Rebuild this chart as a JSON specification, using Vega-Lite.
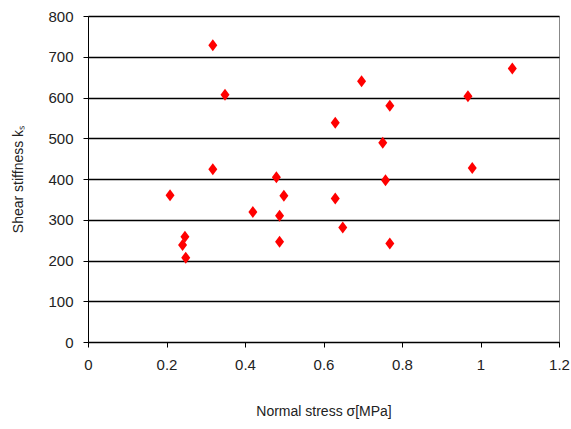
{
  "$schema": "https://vega.github.io/schema/vega-lite/v6.json",
  "width": 471,
  "height": 326,
  "autosize": "none",
  "padding": {"left": 88, "top": 16, "right": 12, "bottom": 87},
  "background": "white",
  "config": {
    "view": {"stroke": "#888888", "strokeWidth": 1},
    "font": "Liberation Sans"
  },
  "data": {
    "values": [
      {"sigma": 0.209, "ks": 360},
      {"sigma": 0.247, "ks": 258},
      {"sigma": 0.241, "ks": 238},
      {"sigma": 0.249, "ks": 207},
      {"sigma": 0.318, "ks": 728},
      {"sigma": 0.349, "ks": 607},
      {"sigma": 0.318, "ks": 424},
      {"sigma": 0.420, "ks": 319},
      {"sigma": 0.480, "ks": 404},
      {"sigma": 0.488, "ks": 310},
      {"sigma": 0.499, "ks": 359},
      {"sigma": 0.488, "ks": 246},
      {"sigma": 0.630, "ks": 538},
      {"sigma": 0.630, "ks": 352},
      {"sigma": 0.649, "ks": 281},
      {"sigma": 0.697, "ks": 640},
      {"sigma": 0.751, "ks": 489},
      {"sigma": 0.758, "ks": 397},
      {"sigma": 0.769, "ks": 580},
      {"sigma": 0.769, "ks": 242},
      {"sigma": 0.968, "ks": 603},
      {"sigma": 0.979, "ks": 427},
      {"sigma": 1.081, "ks": 671}
    ]
  },
  "mark": {
    "type": "point",
    "shape": "M0,-1.2L0.9,0L0,1.2L-0.9,0Z",
    "filled": true,
    "color": "#ff0000",
    "opacity": 1,
    "size": 100
  },
  "encoding": {
    "x": {
      "field": "sigma",
      "type": "quantitative",
      "scale": {"domain": [0, 1.2], "nice": false, "zero": true},
      "axis": {
        "title": "Normal stress σ[MPa]",
        "values": [0, 0.2, 0.4, 0.6, 0.8, 1, 1.2],
        "format": "~g",
        "grid": false,
        "domainColor": "#000000",
        "tickColor": "#000000",
        "tickSize": 5,
        "labelFontSize": 15,
        "labelColor": "#222222",
        "labelPadding": 10,
        "labelFlush": false,
        "titleFontSize": 14,
        "titleFontWeight": "normal",
        "titleColor": "#222222",
        "titlePadding": 32
      }
    },
    "y": {
      "field": "ks",
      "type": "quantitative",
      "scale": {"domain": [0, 800], "nice": false},
      "axis": {
        "title": "Shear stiffness kₛ",
        "values": [0, 100, 200, 300, 400, 500, 600, 700, 800],
        "grid": true,
        "gridColor": "#000000",
        "gridWidth": 1.5,
        "gridOpacity": 1,
        "domainColor": "#000000",
        "tickColor": "#000000",
        "tickSize": 5,
        "labelFontSize": 15,
        "labelColor": "#222222",
        "labelPadding": 10,
        "labelFlush": false,
        "titleFontSize": 14,
        "titleFontWeight": "normal",
        "titleColor": "#222222",
        "titlePadding": 22
      }
    }
  }
}
